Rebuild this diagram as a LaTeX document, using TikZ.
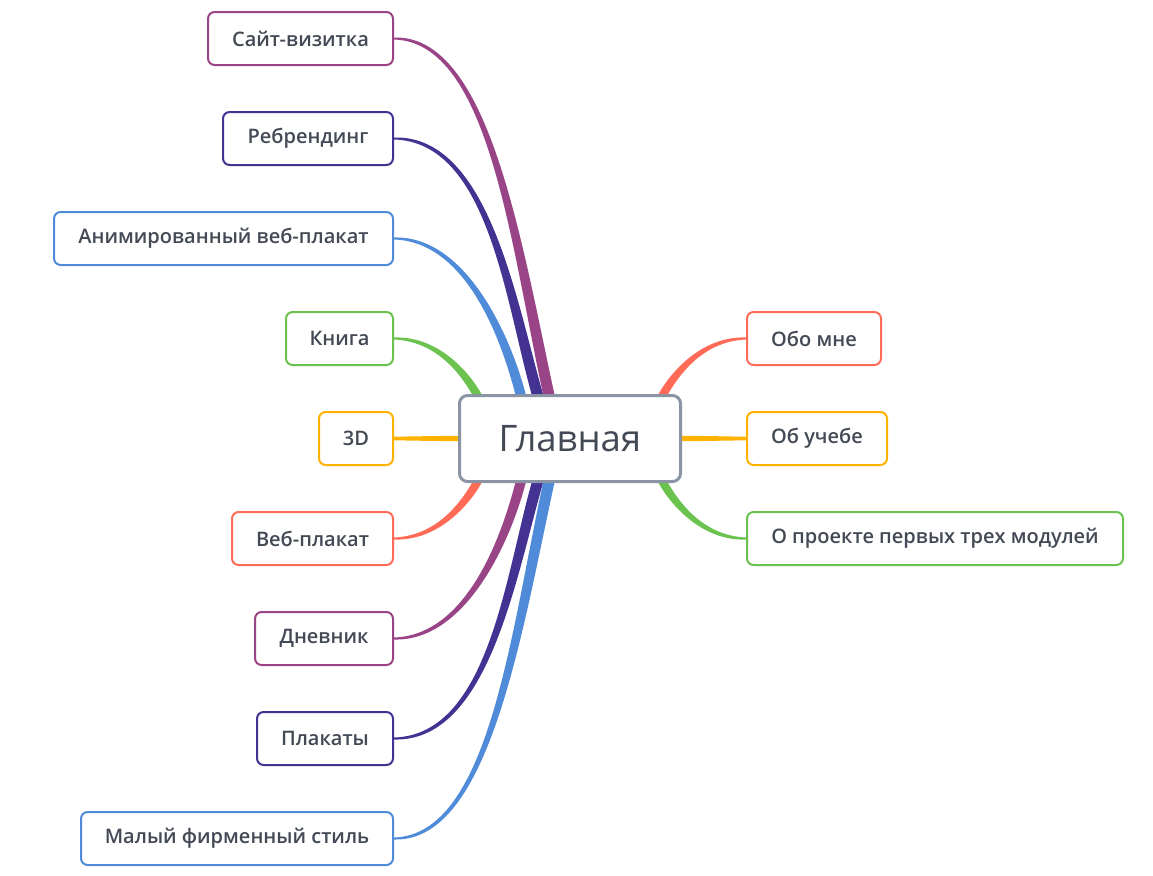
\documentclass[tikz,border=0pt]{standalone}
\usepackage{fontspec}
\setmainfont{Open Sans}
\IfFontExistsTF{Open Sans SemiBold}
  {\newfontfamily\leaffont{Open Sans SemiBold}}
  {\IfFontExistsTF{Open Sans Semibold}
     {\newfontfamily\leaffont{Open Sans Semibold}}
     {\newfontfamily\leaffont{Open Sans}[FakeBold=0.6]}}
\usetikzlibrary{calc}
\definecolor{cpur}{HTML}{9A4488}
\definecolor{cind}{HTML}{443292}
\definecolor{cblu}{HTML}{4F8BD8}
\definecolor{cgrn}{HTML}{6CC24F}
\definecolor{camb}{HTML}{FFB300}
\definecolor{ccor}{HTML}{FF6B57}
\definecolor{croot}{HTML}{8A94A5}
\definecolor{ctxt}{HTML}{434A55}
\pgfdeclarelayer{bg}
\pgfsetlayers{bg,main}
\tikzset{
  leaf/.style={draw=#1, line width=1.5pt, rounded corners=5pt, fill=white,
    minimum height=39.75pt, inner sep=0pt, text=ctxt,
    font=\leaffont\fontsize{15}{18}\selectfont},
  rootbox/.style={draw=croot, line width=2.25pt, rounded corners=6pt, fill=white,
    minimum width=165.75pt, minimum height=64.5pt, inner sep=0pt, text=ctxt,
    font=\fontsize{27.4}{31}\selectfont},
}
% #1 colour, #2 start node anchor, #3 control 1, #4 control 2, #5 end,
% #6 start half-width, #7 half-width at control 1, #8 end half-width
\newcommand\branch[8]{%
  \begin{pgfonlayer}{bg}
  \fill[#1] ($(#2)+#6$) .. controls ($#3+#7$) and ($#4+#8$) .. ($#5+#8$)
     -- ($#5-#8$) .. controls ($#4-#8$) and ($#3-#7$) .. ($(#2)-#6$) -- cycle;
  \end{pgfonlayer}}
\begin{document}
\begin{tikzpicture}[x=0.75pt,y=-0.75pt]
\begin{pgfonlayer}{bg}
\fill[white] (0,0) rectangle (1153,875);
\end{pgfonlayer}
\useasboundingbox (0,0) rectangle (1153,875);
% root
\node[rootbox] (root) at (570,438.5) {Главная};
% left leaves
\node[leaf=cpur, minimum width={185*0.75pt}, anchor=east] (site) at (394,38.5) {Сайт-визитка};
\node[leaf=cind, minimum width={170*0.75pt}, anchor=east] (rebr) at (394,138.5) {Ребрендинг};
\node[leaf=cblu, minimum width={339*0.75pt}, anchor=east] (anim) at (394,238.5) {Анимированный веб-плакат};
\node[leaf=cgrn, minimum width={107*0.75pt}, anchor=east] (kniga) at (394,338.5) {Книга};
\node[leaf=camb, minimum width={74*0.75pt}, anchor=east] (d3) at (394,438.5) {3D};
\node[leaf=ccor, minimum width={161*0.75pt}, anchor=east] (veb) at (394,538.5) {Веб-плакат};
\node[leaf=cpur, minimum width={138*0.75pt}, anchor=east] (dnev) at (394,638.5) {Дневник};
\node[leaf=cind, minimum width={136*0.75pt}, anchor=east] (plak) at (394,738.5) {Плакаты};
\node[leaf=cblu, minimum width={312*0.75pt}, anchor=east] (maly) at (394,838.5) {Малый фирменный стиль};
% right leaves
\node[leaf=ccor, minimum width={134*0.75pt}, anchor=west] (obo) at (746,338.5) {Обо мне};
\node[leaf=camb, minimum width={140*0.75pt}, anchor=west] (ucheb) at (746,438.5) {Об учебе};
\node[leaf=cgrn, minimum width={376*0.75pt}, anchor=west] (proj) at (746,538.5) {О проекте первых трех модулей};
% end points inside the root
\coordinate (eSite) at (550,400);
\coordinate (eRebr) at (539,400);
\coordinate (eAnim) at (522,400);
\coordinate (eKniga) at (481,402);
\coordinate (eD3) at (470,438.5);
\coordinate (eVeb) at (481,475);
\coordinate (eDnev) at (522,477);
\coordinate (ePlak) at (539,477);
\coordinate (eMaly) at (550,477);
\coordinate (eObo) at (659,402);
\coordinate (eUcheb) at (670,438.5);
\coordinate (eProj) at (659,475);
% connectors
\branch{cpur}{site.east}{(490,38.5)}{(516,245)}{(eSite)}{(0,-1)}{(0,-3.8)}{(5.5,-0.8)}
\branch{cind}{rebr.east}{(490,138.5)}{(511,305)}{(eRebr)}{(0,-1)}{(0,-3.6)}{(5.5,-0.8)}
\branch{cblu}{anim.east}{(465,238.5)}{(506,335)}{(eAnim)}{(0,-1)}{(0,-3.2)}{(5,-0.8)}
\branch{cgrn}{kniga.east}{(435,338.5)}{(465,370)}{(eKniga)}{(0,-1)}{(0,-2.7)}{(3.8,-1.8)}
\branch{camb}{d3.east}{(420,438.5)}{(450,438.5)}{(eD3)}{(0,-1.8)}{(0,-2.2)}{(0,-2.8)}
\branch{ccor}{veb.east}{(435,538.5)}{(465,507)}{(eVeb)}{(0,-1)}{(0,-2.7)}{(-3.8,-1.8)}
\branch{cpur}{dnev.east}{(465,638.5)}{(506,542)}{(eDnev)}{(0,-1)}{(0,-3.2)}{(-5,-0.8)}
\branch{cind}{plak.east}{(490,738.5)}{(511,572)}{(ePlak)}{(0,-1)}{(0,-3.6)}{(-5.5,-0.8)}
\branch{cblu}{maly.east}{(490,838.5)}{(516,632)}{(eMaly)}{(0,-1)}{(0,-3.8)}{(-5.5,-0.8)}
\branch{ccor}{obo.west}{(705,338.5)}{(675,370)}{(eObo)}{(0,1)}{(0,2.7)}{(3.8,1.8)}
\branch{camb}{ucheb.west}{(720,438.5)}{(690,438.5)}{(eUcheb)}{(0,1.8)}{(0,2.2)}{(0,2.8)}
\branch{cgrn}{proj.west}{(705,538.5)}{(675,507)}{(eProj)}{(0,1)}{(0,2.7)}{(-3.8,1.8)}
\end{tikzpicture}
\end{document}
